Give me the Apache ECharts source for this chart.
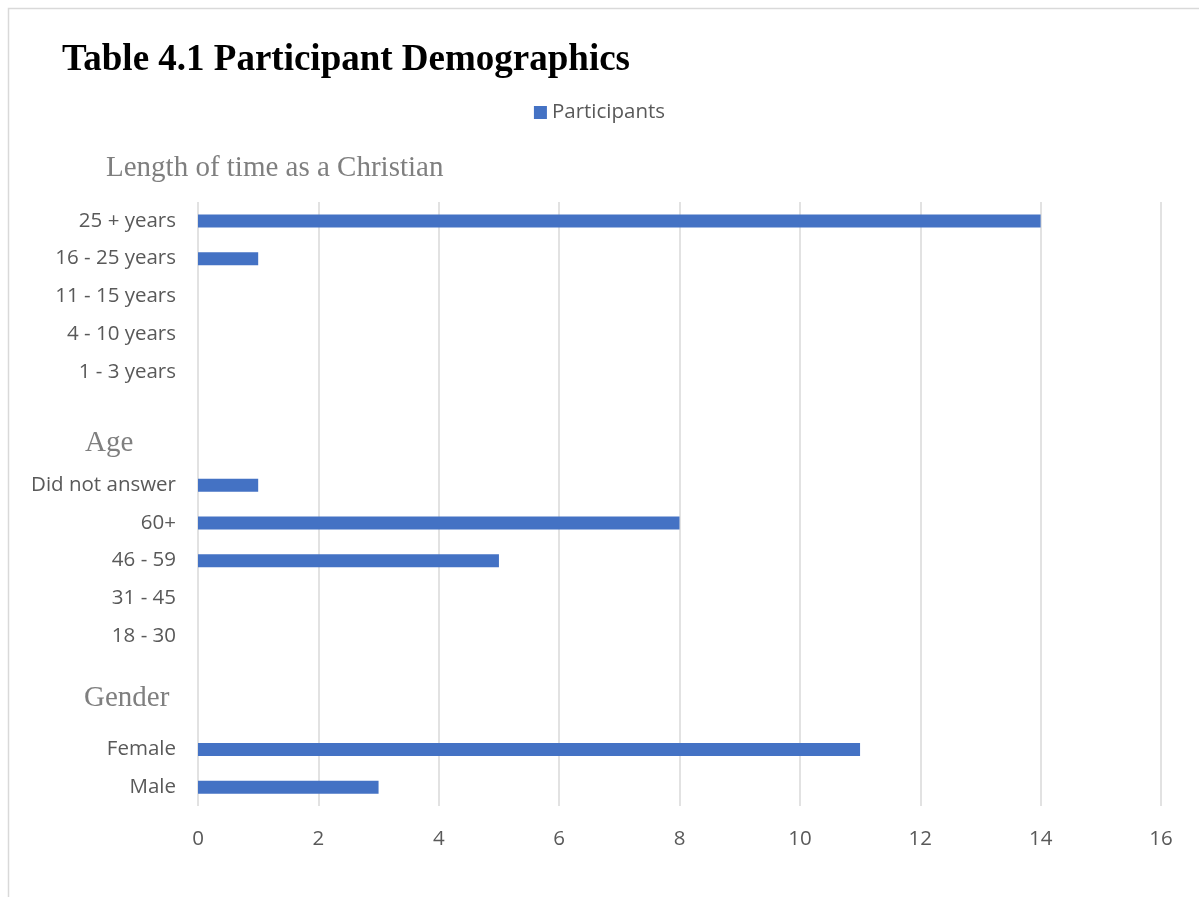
<!DOCTYPE html>
<html><head><meta charset="utf-8">
<script src="https://cdn.jsdelivr.net/npm/echarts@6/dist/echarts.min.js"></script>
<style>html,body{margin:0;padding:0;background:#fff}#c{width:1199px;height:897px}</style>
</head><body><div id="c"></div>
<script>
const categories = ['Male','Female','','','18 - 30','31 - 45','46 - 59','60+','Did not answer','','','1 - 3 years','4 - 10 years','11 - 15 years','16 - 25 years','25 + years'];
const participants = [3,11,null,null,0,0,5,8,1,null,null,0,0,0,1,14];
const xTicks = {min:0,max:16,interval:2};
const groupHeaders = ['Length of time as a Christian','Age','Gender'];
const seriesName = 'Participants';
const titleText = 'Table 4.1 Participant Demographics';

const chart = echarts.init(document.getElementById('c'));
const labelFont = 'Open Sans';
chart.setOption({
  animation:false,
  title:{text:titleText,left:57,top:37,textStyle:{fontFamily:'Liberation Serif',fontWeight:'bold',fontSize:37,color:'#000'}},
  legend:{data:[seriesName],top:97,left:'center',itemWidth:13,itemHeight:13,icon:'rect',itemGap:5,textStyle:{fontFamily:labelFont,fontSize:20.5,color:'#595959'}},
  grid:{left:198,right:38,top:202,bottom:91,containLabel:false},
  xAxis:{type:'value',min:xTicks.min,max:xTicks.max,interval:xTicks.interval,
    axisLine:{show:false},axisTick:{show:false},
    splitLine:{show:true,lineStyle:{color:'#d9d9d9',width:1.5}},
    axisLabel:{fontFamily:labelFont,fontSize:20.5,color:'#595959',margin:23}},
  yAxis:{type:'category',data:categories,axisTick:{show:false},
    axisLine:{show:false},
    axisLabel:{fontFamily:labelFont,fontSize:20.5,color:'#595959',margin:22,padding:[3,0,0,0]}},
  series:[{name:seriesName,type:'bar',data:participants,barWidth:13,itemStyle:{color:'#4472C4'}}],
  graphic:[
    {type:'rect',shape:{x:8.5,y:8.5,width:1300,height:1000},style:{fill:'none',stroke:'#d9d9d9',lineWidth:1.5},silent:true},
    {type:'text',left:106,top:154,style:{text:groupHeaders[0],font:'29px "Liberation Serif"',fill:'#7f7f7f'}},
    {type:'text',left:85,top:429,style:{text:groupHeaders[1],font:'29px "Liberation Serif"',fill:'#7f7f7f'}},
    {type:'text',left:84,top:684,style:{text:groupHeaders[2],font:'29px "Liberation Serif"',fill:'#7f7f7f'}}
  ]
});
</script></body></html>
